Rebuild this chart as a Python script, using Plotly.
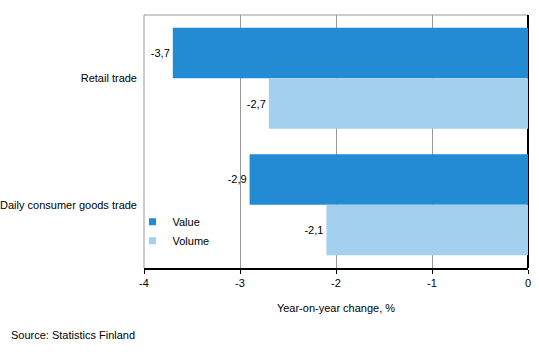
import plotly.graph_objects as go

categories = ["Retail trade", "Daily consumer goods trade"]
value = [-3.7, -2.9]
volume = [-2.7, -2.1]
x_ticks = [-4, -3, -2, -1, 0]
x_tick_labels = ["-4", "-3", "-2", "-1", "0"]
series_names = ["Value", "Volume"]
series_colors = ["#228BD3", "#A2D0EE"]

def fmt(v):
    return f"{v:.1f}".replace(".", ",")

FONT = "Liberation Sans, Arial, sans-serif"
W, H = 539, 363
L, T, R, B = 144, 15, 11, 95
PW, PH = W - L - R, H - T - B

fig = go.Figure()
for name, vals, col in zip(series_names, [value, volume], series_colors):
    fig.add_trace(go.Bar(
        y=categories, x=vals, name=name, orientation="h",
        marker=dict(color=col, line=dict(width=0)),
        text=[fmt(v) for v in vals], textposition="outside",
        textfont=dict(size=11, color="black", family=FONT), cliponaxis=False,
        showlegend=False,
    ))
for i, (name, col) in enumerate(zip(series_names, series_colors)):
    fig.add_trace(go.Scatter(
        x=[None], y=[None], name=name, mode="markers",
        marker=dict(symbol="square", size=7, color=col),
        legendgroup=f"g{i}", showlegend=True,
    ))

fig.update_layout(
    width=W, height=H,
    margin=dict(l=L, r=R, t=T, b=B, autoexpand=False),
    barmode="group", bargap=0.2, bargroupgap=0,
    plot_bgcolor="white", paper_bgcolor="white",
    font=dict(family=FONT, size=11, color="black"),
    showlegend=True,
    legend=dict(x=-0.03, y=0.24, xanchor="left", yanchor="top",
                bgcolor="rgba(0,0,0,0)", font=dict(size=11),
                traceorder="normal", itemwidth=30, tracegroupgap=7),
    xaxis=dict(range=[-4, 0], tickvals=x_ticks, ticktext=x_tick_labels,
               automargin=False,
               showgrid=True, gridcolor="#999999", gridwidth=1,
               zeroline=True, zerolinecolor="black", zerolinewidth=2,
               showline=True, linecolor="black", linewidth=2,
               ticks="outside", ticklen=4, tickcolor="black",
               title=dict(text="Year-on-year change, %", standoff=16,
                          font=dict(size=11))),
    yaxis=dict(autorange="reversed", showgrid=False, zeroline=False,
               automargin=False,
               ticks="", ticklabelstandoff=6, showline=False),
    shapes=[
        dict(type="line", xref="paper", yref="paper", x0=0, x1=0, y0=0, y1=1,
             line=dict(color="#999999", width=1), layer="below"),
        dict(type="line", xref="paper", yref="paper", x0=0, x1=1, y0=1, y1=1,
             line=dict(color="#999999", width=1), layer="below"),
    ],
    annotations=[
        dict(text="Source: Statistics Finland", xref="paper", yref="paper",
             x=-135 / PW, y=-67 / PH, xanchor="left", yanchor="middle",
             showarrow=False, font=dict(size=11, color="black")),
    ],
)

fig.write_html(
    "out.html",
    config={"displayModeBar": False},
    post_script="document.body.style.margin='0';document.body.style.overflow='hidden';",
)
